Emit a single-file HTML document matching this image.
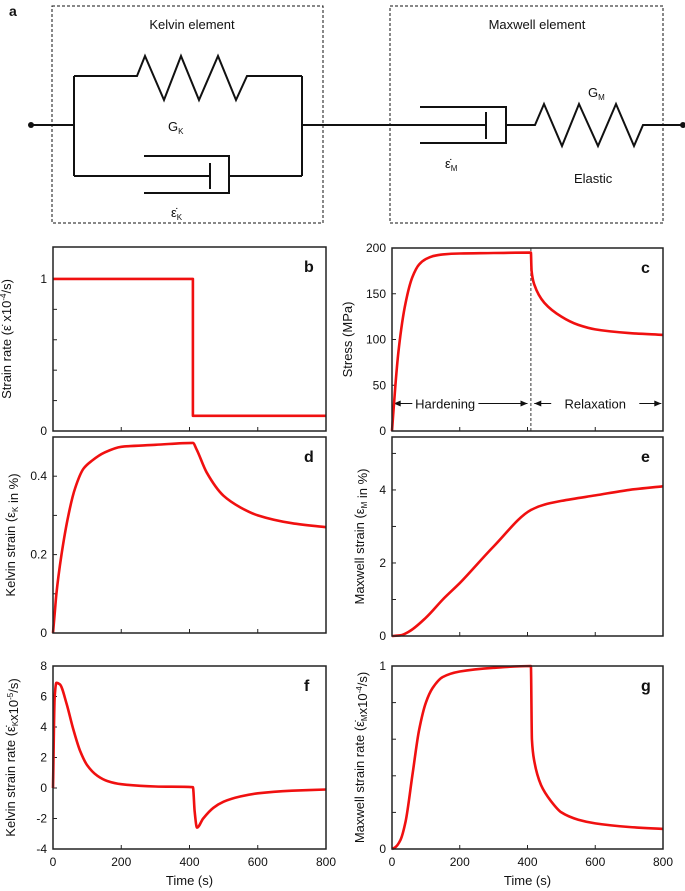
<!DOCTYPE html>
<html><head><meta charset="utf-8"><style>
body{margin:0;background:#fff;}
svg{display:block;font-family:"Liberation Sans",Arial,sans-serif;}
</style></head><body>
<svg id="fig" width="685" height="891" viewBox="0 0 685 891">
<g fill="none" stroke="#111" stroke-width="2">
  <text x="9" y="16" font-size="14" font-weight="bold" fill="#111" stroke="none">a</text>
  <rect x="52" y="6" width="271" height="217" stroke-width="1" stroke-dasharray="3,2"/>
  <rect x="390" y="6" width="273" height="217" stroke-width="1" stroke-dasharray="3,2"/>
  <text x="192" y="29" font-size="13" text-anchor="middle" fill="#111" stroke="none">Kelvin element</text>
  <text x="537" y="29" font-size="13" text-anchor="middle" fill="#111" stroke="none">Maxwell element</text>
  <circle cx="31" cy="125" r="3" fill="#111" stroke="none"/>
  <circle cx="683" cy="125" r="3" fill="#111" stroke="none"/>
  <path d="M31 125H74M74 76V176M302 76V176M302 125H486"/>
  <path d="M74 76H137L145 56L164 100L181 56L199 100L218 56L236 100L247 76H302"/>
  <path d="M74 176H210M210 163V189M144 156H229V193H144M229 176H302"/>
  <path d="M486 112V139M420 107H506V143H420M506 125H535L544 104L562 146L579 104L598 146L616 104L634 146L643 125H683"/>
  <g fill="#111" stroke="none" font-size="13">
    <text x="168" y="131">G<tspan font-size="8" dy="3">K</tspan></text>
    <text x="171" y="217">ε̇<tspan font-size="8" dy="3">K</tspan></text>
    <text x="588" y="97">G<tspan font-size="8" dy="3">M</tspan></text>
    <text x="445" y="168">ε̇<tspan font-size="8" dy="3">M</tspan></text>
    <text x="574" y="183">Elastic</text>
  </g>
</g>
<g id="charts"></g>
</svg>
<script>
// ---- data ----
const bTime=[0,410,410,800];
const bRate=[1,1,0.1,0.1];
const cTime=[0,10,20,40,60,80,100,120,150,200,300,410,412,420,450,500,550,600,700,800];
const cStress=[0,50,90,140,168,182,188,191,193,194,194.5,195,175,160,140,125,116,111,107,105];
const dTime=[0,5,10,25,45,65,90,115,150,200,300,410,420,450,500,550,600,700,800];
const dKelvin=[0,0.05,0.1,0.2,0.3,0.37,0.42,0.44,0.46,0.475,0.48,0.485,0.47,0.41,0.35,0.32,0.30,0.28,0.27];
const eTime=[0,25,50,100,150,200,300,410,450,500,600,700,800];
const eMaxwell=[0,0.02,0.12,0.5,1,1.45,2.45,3.45,3.6,3.7,3.85,4.0,4.1];
const fTime=[0,5,10,20,40,60,80,100,130,160,200,300,410,415,422,440,470,500,550,600,700,800];
const fRate=[0,6,6.9,6.8,5.5,3.8,2.4,1.5,0.8,0.45,0.25,0.1,0.05,-1.5,-2.6,-2.0,-1.3,-0.9,-0.55,-0.35,-0.18,-0.1];
const gTime=[0,10,25,40,60,80,100,120,150,200,300,410,413,420,440,470,500,550,600,700,800];
const gRate=[0,0.01,0.05,0.15,0.4,0.65,0.8,0.88,0.94,0.97,0.99,1.0,0.6,0.48,0.35,0.26,0.2,0.16,0.14,0.12,0.11];
const xTicks=[0,200,400,600,800];

const NS="http://www.w3.org/2000/svg";
const root=document.getElementById('charts');
function mk(tag,attrs,parent){const e=document.createElementNS(NS,tag);for(const k in attrs)e.setAttribute(k,attrs[k]);parent.appendChild(e);return e;}

// monotone cubic path through pixel points
function smoothPath(px,py){
  const n=px.length;
  for(let i=1;i<n;i++) if(px[i]<=px[i-1]){ // fallback linear
    return px.map((x,i)=>(i?'L':'M')+x.toFixed(1)+' '+py[i].toFixed(1)).join('');
  }
  const dx=[],s=[],m=[];
  for(let i=0;i<n-1;i++){dx.push(px[i+1]-px[i]);s.push((py[i+1]-py[i])/dx[i]);}
  m[0]=s[0];m[n-1]=s[n-2];
  for(let i=1;i<n-1;i++){m[i]=(s[i-1]*s[i]<=0)?0:(3*(dx[i-1]+dx[i]))/((2*dx[i]+dx[i-1])/s[i-1]+(dx[i]+2*dx[i-1])/s[i]);}
  let d='M'+px[0].toFixed(1)+' '+py[0].toFixed(1);
  for(let i=0;i<n-1;i++){
    const h=dx[i]/3;
    d+=`C${(px[i]+h).toFixed(1)} ${(py[i]+m[i]*h).toFixed(1)} ${(px[i+1]-h).toFixed(1)} ${(py[i+1]-m[i+1]*h).toFixed(1)} ${px[i+1].toFixed(1)} ${py[i+1].toFixed(1)}`;
  }
  return d;
}

function panel(cfg){
  const g=mk('g',{},root);
  
  
  const {x0,x1,y0,y1,ymin,ymax}=cfg;
  const sx=t=>x0+(t/800)*(x1-x0);
  const sy=v=>y1-(v-ymin)/(ymax-ymin)*(y1-y0);
  xTicks.forEach(t=>{
    const l=mk('line',{x1:sx(t),x2:sx(t),y1:y1,y2:y1-4,stroke:'#222','stroke-width':1},g);
    
    
    if(cfg.xlabels){
      const tx=mk('text',{x:sx(t),y:y1+17,'font-size':12,'text-anchor':'middle',fill:'#111'},g);
      tx.textContent=t;
      
      
    }
  });
  cfg.yticks.forEach(v=>{
    const l=mk('line',{x1:x0,x2:x0+4,y1:sy(v),y2:sy(v),stroke:'#222','stroke-width':1},g);
    
    
  });
  cfg.ylabels.forEach(v=>{
    const tx=mk('text',{x:x0-6,y:sy(v)+4,'font-size':12,'text-anchor':'end',fill:'#111'},g);
    tx.textContent=v;
    
    
  });
  if(cfg.extra)cfg.extra(g,sx,sy);
  const d=smoothPath(cfg.t.map(sx),cfg.v.map(sy));
  const p=mk('path',{d:d,fill:'none',stroke:'#f01010','stroke-width':2.6,'stroke-linejoin':'round'},g);
  
  
  const r=mk('rect',{x:x0,y:y0,width:x1-x0,height:y1-y0,fill:'none',stroke:'#222','stroke-width':1.5},g);
  
  
  const lt=mk('text',{x:x1-22,y:y0+25,'font-size':16,'font-weight':'bold',fill:'#111'},g);
  lt.textContent=cfg.id;
  
  
  const yt=mk('text',{transform:`translate(${x0-cfg.ytOff},${(y0+y1)/2}) rotate(-90)`,'font-size':13,'text-anchor':'middle',fill:'#111'},g);
  yt.innerHTML=cfg.ytitle;
  
  
  if(cfg.xlabels){
    const xt=mk('text',{x:(x0+x1)/2,y:885,'font-size':13,'text-anchor':'middle',fill:'#111'},g);
    xt.textContent='Time (s)';
    
    
  }
}
const SUB=s=>`<tspan font-size="8" dy="3">${s}</tspan><tspan dy="-3"></tspan>`;
panel({id:'b',x0:53,x1:326,y0:247,y1:431,ymin:0,ymax:1.21,yticks:[0,0.2,0.4,0.6,0.8,1],ylabels:[0,1],t:bTime,v:bRate,ytOff:42,
  ytitle:'Strain rate (ε̇ x10<tspan font-size="8" dy="-5">-4</tspan><tspan dy="5">/s)</tspan>'});
panel({id:'c',x0:392,x1:663,y0:248,y1:431,ymin:0,ymax:200,yticks:[0,50,100,150,200],ylabels:[0,50,100,150,200],t:cTime,v:cStress,ytOff:40,
  ytitle:'Stress (MPa)',extra:(g,sx,sy)=>{
    const l=mk('line',{x1:sx(410),x2:sx(410),y1:248,y2:431,stroke:'#333','stroke-width':1,'stroke-dasharray':'3,2'},g);
    
    
    const y=sy(30);
    const a=mk('path',{d:`M${sx(5)} ${y}H${sx(60)}M${sx(255)} ${y}H${sx(400)}M${sx(420)} ${y}H${sx(470)}M${sx(730)} ${y}H${sx(795)}`,stroke:'#111','stroke-width':1,fill:'none'},g);
    
    
    const h=mk('path',{d:`M${sx(5)} ${y}l7 -3v6z M${sx(400)} ${y}l-7 -3v6z M${sx(420)} ${y}l7 -3v6z M${sx(795)} ${y}l-7 -3v6z`,fill:'#111'},g);
    
    
    const t1=mk('text',{x:sx(157),y:y+5,'font-size':13,'text-anchor':'middle',fill:'#111'},g);
    t1.textContent='Hardening';
    
    
    const t2=mk('text',{x:sx(600),y:y+5,'font-size':13,'text-anchor':'middle',fill:'#111'},g);
    t2.textContent='Relaxation';
    
    
  }});
panel({id:'d',x0:53,x1:326,y0:437,y1:633,ymin:0,ymax:0.5,yticks:[0,0.1,0.2,0.3,0.4,0.5],ylabels:[0,0.2,0.4],t:dTime,v:dKelvin,ytOff:38,
  ytitle:'Kelvin strain (ε'+SUB('K')+' in %)'});
panel({id:'e',x0:392,x1:663,y0:437,y1:636,ymin:0,ymax:5.45,yticks:[0,1,2,3,4,5],ylabels:[0,2,4],t:eTime,v:eMaxwell,ytOff:28,
  ytitle:'Maxwell strain (ε'+SUB('M')+' in %)'});
panel({id:'f',x0:53,x1:326,y0:666,y1:849,ymin:-4,ymax:8,yticks:[-4,-2,0,2,4,6,8],ylabels:[-4,-2,0,2,4,6,8],t:fTime,v:fRate,xlabels:true,ytOff:38,
  ytitle:'Kelvin strain rate (ε̇'+SUB('K')+'x10<tspan font-size="8" dy="-5">-5</tspan><tspan dy="5">/s)</tspan>'});
panel({id:'g',x0:392,x1:663,y0:666,y1:849,ymin:0,ymax:1,yticks:[0,0.2,0.4,0.6,0.8,1],ylabels:[0,1],t:gTime,v:gRate,xlabels:true,ytOff:28,
  ytitle:'Maxwell strain rate (ε̇'+SUB('M')+'x10<tspan font-size="8" dy="-5">-4</tspan><tspan dy="5">/s)</tspan>'});
</script>
</body></html>
